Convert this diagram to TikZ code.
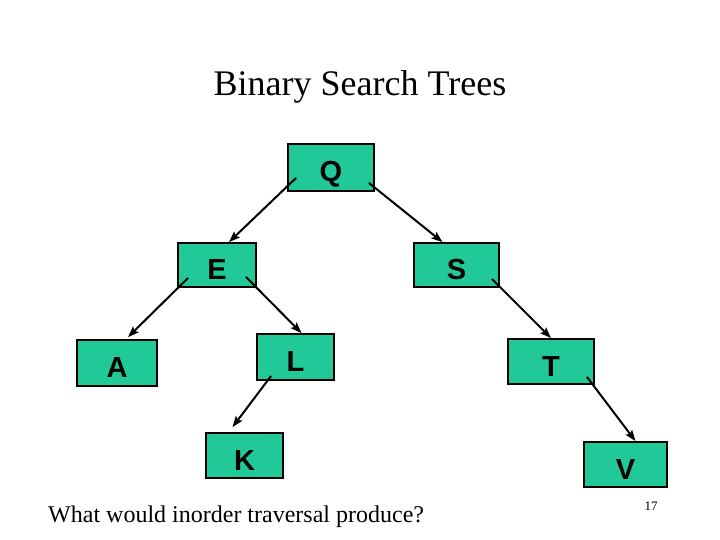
\documentclass[tikz,border=0pt]{standalone}
\usepackage{fontspec}
\setmainfont{Liberation Serif}
\newfontfamily\keyfont{Liberation Sans}
\usetikzlibrary{arrows.meta}
\definecolor{nodegreen}{HTML}{20C997}

\begin{document}
\begin{tikzpicture}[
    x=1pt, y=-1pt,
    >={Stealth[length=11pt, width=8pt, inset=2pt]},
    key/.style={draw=black, line width=1.8pt, fill=nodegreen, minimum height=45pt,
        inner sep=0pt, text height=29pt, text depth=0pt,
        font=\keyfont\bfseries\fontsize{29}{31}\selectfont},
    link/.style={->, line width=2pt},
    title/.style={font=\fontsize{36}{40}\selectfont},
    note/.style={font=\fontsize{24}{28}\selectfont},
]
    \useasboundingbox (0,0) rectangle (720,540);

    % --- Title ---
    \node[title, anchor=base] (head) at (360,96) {Binary Search Trees};

    % --- Keys ---
    \node[key, minimum width=86pt, minimum height=47pt] (Q) at (331,167.5) {Q};
    \node[key, minimum width=78pt, minimum height=44pt] (E) at (217,265) {E};
    \node[key, minimum width=85pt, minimum height=44pt] (S) at (456.5,265) {S};
    \node[key, minimum width=80pt, minimum height=46pt] (A) at (117,363) {A};
    \node[key, minimum width=77pt, minimum height=46pt] (L) at (295.5,357) {L};
    \node[key, minimum width=86pt] (T) at (551,361.5) {T};
    \node[key, minimum width=77pt] (K) at (244.5,455.5) {K};
    \node[key, minimum width=83pt] (V) at (625.5,464.5) {V};

    % --- Links ---
    \draw[link] ([xshift=9pt, yshift=14pt]Q.south west) -- ([xshift=12pt]E.north);
    \draw[link] ([xshift=-6pt, yshift=9pt]Q.south east) -- ([xshift=-14pt]S.north);
    \draw[link] ([xshift=11pt, yshift=10pt]E.south west) -- ([xshift=11pt, yshift=2pt]A.north);
    \draw[link] ([xshift=-11pt, yshift=11pt]E.south east) -- ([xshift=6pt]L.north);
    \draw[link] ([xshift=-8pt, yshift=9pt]S.south east) -- (T.north);
    \draw[link] ([xshift=15pt, yshift=5pt]L.south west) -- ([xshift=-12pt, yshift=5pt]K.north);
    \draw[link] ([xshift=-8pt, yshift=8pt]T.south east) -- ([xshift=10pt]V.north);

    % --- Question and page number ---
    \node[note, anchor=base west, inner sep=0pt] (ask) at (48,522) {What would inorder traversal produce?};
    \node[font=\fontsize{13}{15}\selectfont, anchor=base] (page) at (651,510) {17};

\end{tikzpicture}
\end{document}
